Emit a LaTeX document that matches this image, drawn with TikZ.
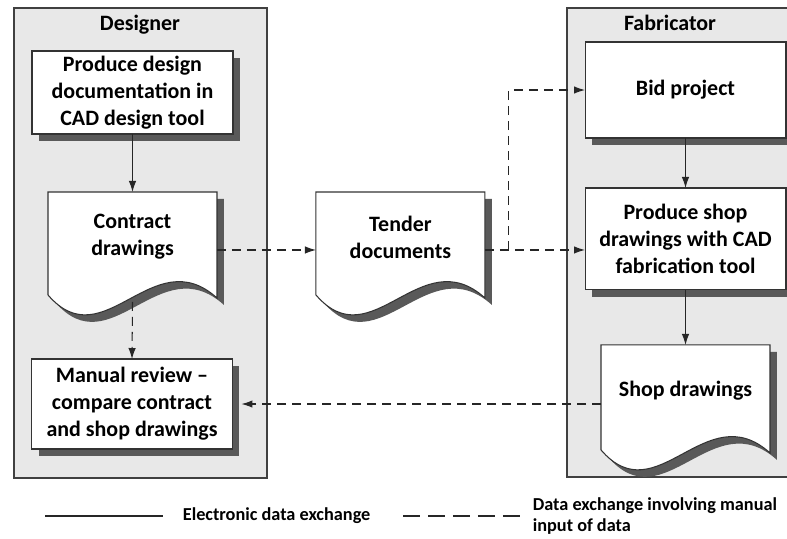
\documentclass[tikz,border=0pt]{standalone}
\usepackage{fontspec}
\setmainfont{Carlito}
\usetikzlibrary{positioning,calc,shadows,arrows.meta}
\tikzset{
    %Define standard arrow tip
    >={Latex[length=2.2mm,width=1.5mm]},
    % Define arrow styles
    pil/.style={
           ->,
           line width=0.6pt,
           black!85},
    pilm/.style={
           pil,
           dash pattern=on 1.8mm off 1.2mm}
}
\newcommand{\boxwidth}{4.02cm}
\newcommand{\docwidth}{3.38cm}
\newcommand{\boxfont}{\fontsize{12.5}{15.4}\selectfont\bfseries}
\newcommand{\legfont}{\fontsize{10.4}{12.5}\selectfont\bfseries}
% outline of a document node, shifted by (#2,#3)
\newcommand{\docpath}[3]{($(#1.north west)+(#2,#3)$) -- ($(#1.north east)+(#2,#3)$)
  -- ($(#1.south east)+(#2,16+#3)$)
  .. controls ($(#1.south west)!0.62!(#1.south east)+(#2,-42+#3)$)
  and ($(#1.south west)!0.33!(#1.south east)+(#2,78+#3)$) .. ($(#1.south west)+(#2,13+#3)$) -- cycle}
\pgfdeclarelayer{back}
\pgfdeclarelayer{mid}
\pgfsetlayers{back,mid,main}

\begin{document}
\begin{tikzpicture}[x=0.02cm, y=-0.02cm, node distance=0cm, outer sep=0pt]
\tikzstyle{nbox}=[ draw=black!80,
                  line width=0.6pt,
                  rectangle,
                  minimum width=\boxwidth,
                  fill=white,
                  inner sep=0pt,
                  align=center,
                  font=\boxfont,
                  drop shadow={shadow xshift=0.14cm, shadow yshift=-0.14cm,
                               fill=black!65, opacity=1}]
\tikzstyle{ndoc}=[ rectangle,
                  minimum width=\docwidth,
                  inner sep=0pt,
                  align=center,
                  font=\boxfont]
\tikzstyle{lab}=[ font=\boxfont]
\tikzstyle{leg}=[ font=\legfont, anchor=west, align=left]

\useasboundingbox (0,0) rectangle (787,538);

% lanes
\begin{pgfonlayer}{back}
\filldraw[fill=black!9, draw=black!75, line width=0.8pt] (14,8) rectangle (267,478);
\filldraw[fill=black!9, draw=black!75, line width=0.8pt] (567,8) rectangle (800,477);
\end{pgfonlayer}

\node[lab] (deslab) at (140,25) {Designer};
\node[lab] (fablab) at (670,23) {Fabricator};

% designer
\node[nbox, minimum height=1.66cm] (design) at (132.5,92.5) {Produce design\\documentation in\\CAD design tool};
\node[ndoc, minimum height=1.8cm]  (contract) [below = 1.16cm of design] {Contract\\drawings};
\node[nbox, minimum height=1.8cm]  (review) at (132,404) {Manual review --\\compare contract\\and shop drawings};

% middle
\node[ndoc, minimum height=1.8cm]  (tender) [right = 1.98cm of contract] {Tender\\documents};

% fabricator
\node[nbox, minimum height=1.92cm] (bid) at (685.5,90) {Bid project};
\node[nbox, minimum height=2.04cm] (shopprod) [below = 1cm of bid] {Produce shop\\drawings with CAD\\fabrication tool};
\node[ndoc, minimum height=1.84cm] (shopdoc) [below = 1.1cm of shopprod] {Shop drawings};

\begin{pgfonlayer}{mid}
\foreach \d in {contract,tender,shopdoc}{
  \fill[black!65] \docpath{\d}{7}{7};
  \filldraw[fill=white, draw=black!80, line width=0.6pt] \docpath{\d}{0}{0};
}
\end{pgfonlayer}

\draw[pil] (design.south)  -- (contract.north);
\draw[pil] (bid.south)     -- (shopprod.north);
\draw[pil] (shopprod.south) -- (shopdoc.north);

\coordinate (split) at ($(tender.east)+(24,13)$);
\draw[pilm] ($(contract.east)+(0,13)$) -- ($(tender.west)+(0,13)$);
\draw[pilm] ($(tender.east)+(0,13)$) -- (split) -- (split -| shopprod.west);
\draw[pilm] (split) |- (bid.west);
\draw[pilm] ($(contract.south)+(0,20)$) -- (review.north);
\draw[pilm] (shopdoc.west |- review.east) -- ($(review.east)+(9,0)$);

% legend
\coordinate (elA) at (45,516);
\coordinate (elB) at (163,516);
\coordinate (mlA) at (403,516);
\coordinate (mlB) at (520,516);
\draw[line width=0.8pt, black!85] (elA) -- (elB);
\draw[line width=1.3pt, black!85, dash pattern=on 0.34cm off 0.16cm] (mlA) -- (mlB);
\node[leg] (ellab) at (177,516) {Electronic data exchange};
\node[leg] (mllab) at (527,516) {Data exchange involving manual\\input of data};

\end{tikzpicture}
\end{document}
